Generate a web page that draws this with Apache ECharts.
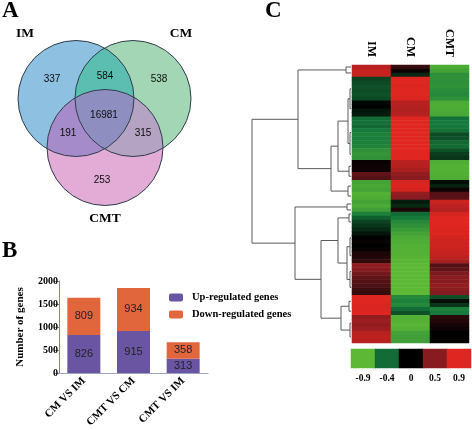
<!DOCTYPE html>
<html><head><meta charset="utf-8">
<style>html,body{margin:0;padding:0;background:#fff}#c{width:472px;height:430px}</style>
<script src="https://cdn.jsdelivr.net/npm/echarts@6/dist/echarts.min.js"></script>
</head><body><div id="c"></div>
<script>
// --- Panel A: Venn diagram
const vennSets = [
  {name:'IM',  cx:76,  cy:98.5,  r:58, labelX:25,  labelY:34},
  {name:'CM',  cx:133, cy:98.5,  r:58, labelX:181, labelY:34},
  {name:'CMT', cx:105, cy:147.5, r:58, labelX:105, labelY:219}
];
const vennCounts = [
  [337,52,79],[584,105,76],[538,159,79],[16981,104,115],[191,68,133],[315,143,133],[253,102,180]
];
// --- Panel B: stacked bars
const barCategories = ['CM VS IM','CMT VS CM','CMT VS IM'];
const upRegulated = [826,915,313];
const downRegulated = [809,934,358];
// --- Panel C: heatmap (one value per row, top to bottom)
const heatColumns = ['IM','CM','CMT'];
const heatIM = [.72,.78,.78,-.25,-.27,-.3,-.28,-.3,-.27,-.03,0,-.08,-.1,-.4,-.42,-.38,-.45,-.5,-.48,-.5,-.52,-.62,-.65,-.62,.03,.05,.05,.35,.3,-.75,-.78,-.75,-.85,-.82,-.75,-.8,-.72,-.5,-.35,-.25,-.2,-.15,-.08,0,.03,0,.03,.1,.12,.18,.55,.5,.42,.35,.3,.28,.22,.2,.9,.9,.88,.88,.9,.55,.6,.55,.6,.72,.75,.72];
const heatCM = [.2,.05,-.15,.9,.9,.88,.9,.9,.88,.72,.7,.68,.72,.9,.9,.9,.9,.9,.9,.9,.9,.9,.9,.9,.72,.7,.65,.55,.5,.85,.88,.85,.55,.5,-.1,-.15,.1,-.4,-.45,-.55,-.62,-.68,-.75,-.8,-.82,-.85,-.85,-.85,-.87,-.88,-.9,-.9,-.9,-.9,-.9,-.9,-.9,-.9,-.55,-.5,-.55,-.4,-.3,-.85,-.85,-.88,-.85,-.75,-.72,-.72];
const heatCMT = [-.8,-.75,-.6,-.62,-.6,-.62,-.58,-.55,-.6,-.8,-.82,-.8,-.78,-.42,-.45,-.44,-.42,-.28,-.3,-.38,-.4,-.3,-.22,-.2,-.82,-.85,-.85,-.84,-.82,-.05,-.12,.05,.3,.32,.8,.75,.7,.85,.9,.9,.9,.88,.88,.85,.82,.82,.8,.78,.75,.65,.3,.35,.45,.5,.5,.55,.52,.48,-.3,-.05,-.2,-.5,-.45,.15,.12,.08,.05,0,0,.02];
// Dendrogram: [merge distance, left, right]; a leaf is [firstRow, lastRow]
const dendrogram = [99,
  [53,
    [5,[0,0],[1,2]],
    [20,
      [13,
        [3,[1,[3,8],[9,12]],[1,[13,20],[21,23]]],
        [2,[24,26],[27,28]]],
      [3,[29,31],[32,33]]]],
  [56,
    [4,[34,35],[36,36]],
    [30,
      [13,
        [2,[37,37],[38,40]],
        [4,[1,[41,45],[46,49]],[1,[50,53],[54,57]]]],
      [10,
        [2,[58,60],[61,62]],
        [1,[63,66],[67,69]]]]]];
const colorTicks = ['-0.9','-0.4','0','0.5','0.9'];
const colorValues = [-0.9,-0.4,0,0.5,0.9];

const SERIF = '"Liberation Serif","Times New Roman",serif';
const SANS = '"Liberation Sans",Arial,sans-serif';
const txt = (weight,size,family,color)=>({fontWeight:weight,fontSize:size,fontFamily:family,color:color});
const rowCount = heatIM.length;

const heatData = [];
[heatIM,heatCM,heatCMT].forEach((col,c)=>col.forEach((v,r)=>heatData.push([c,r,v])));

const dendroSegs = [];
function walk(n){
  if (n.length===2){ return {d:0,y:(n[0]+n[1]+1)/2}; }
  const a=walk(n[1]), b=walk(n[2]), d=n[0];
  dendroSegs.push([d,a.y,d,b.y],[d,a.y,a.d,a.y],[d,b.y,b.d,b.y]);
  return {d:d,y:(a.y+b.y)/2};
}
const rootNode = walk(dendrogram);

function circ(set,api){
  const p=api.coord([set.cx,set.cy]);
  return {cx:p[0],cy:p[1],r:api.size([set.r,0])[0]};
}
function vennRender(params,api){
  const [A,B,C]=vennSets.map(s=>circ(s,api));
  const fill=(s,col,clip)=>{const e={type:'circle',shape:s,style:{fill:col}}; if(clip)e.clipPath={type:'circle',shape:clip}; return e;};
  const outline=s=>({type:'circle',shape:s,style:{fill:'none',stroke:'#2f3d4c',lineWidth:1}});
  return {type:'group',children:[
    fill(A,'#8ec0e2'),fill(B,'#a3d6b5'),fill(C,'#e2acd6'),
    fill(A,'#5cbeb0',B),fill(A,'#a68bcb',C),fill(B,'#b4a3c2',C),
    {type:'group',clipPath:{type:'circle',shape:A},children:[fill(B,'#8e8fc0',C)]},
    outline(A),outline(B),outline(C)
  ]};
}

const option = {
  backgroundColor:'#fff',
  animation:false,
  graphic:[
    {type:'text',left:2,top:0,style:{text:'A',fontWeight:'bold',fontSize:23,fontFamily:SERIF,fill:'#000'}},
    {type:'text',left:2,top:240,style:{text:'B',fontWeight:'bold',fontSize:23,fontFamily:SERIF,fill:'#000'}},
    {type:'text',left:265,top:0,style:{text:'C',fontWeight:'bold',fontSize:23,fontFamily:SERIF,fill:'#000'}}
  ],
  grid:[
    {left:0,top:0,width:472,height:430},
    {left:59,top:281,width:149,height:100},
    {left:352,top:65,width:117,height:278},
    {left:251,top:65,width:100,height:278},
    {left:351,top:349,width:120,height:19}
  ],
  xAxis:[
    {gridIndex:0,type:'value',min:0,max:472,show:false},
    {gridIndex:1,type:'category',data:barCategories,
      axisLine:{lineStyle:{color:'#9aa3c4',width:1}},
      axisTick:{alignWithLabel:true,length:4,lineStyle:{color:'#8a93b4'}},
      axisLabel:Object.assign({rotate:45,interval:0,margin:6},txt('bold',11,SERIF,'#000'))},
    {gridIndex:2,type:'category',position:'top',data:heatColumns,
      axisLine:{show:false},axisTick:{show:false},
      axisLabel:Object.assign({rotate:90,margin:8,interval:0},txt('bold',12,SERIF,'#000'))},
    {gridIndex:3,type:'value',min:0,max:100,inverse:true,show:false},
    {gridIndex:4,type:'category',data:colorTicks,
      axisLine:{show:false},axisTick:{show:false},
      axisLabel:Object.assign({margin:6,interval:0},txt('bold',9.5,SERIF,'#000'))}
  ],
  yAxis:[
    {gridIndex:0,type:'value',min:0,max:430,inverse:true,show:false},
    {gridIndex:1,type:'value',min:0,max:2000,interval:500,
      name:'Number of genes',nameLocation:'middle',nameGap:33,
      nameTextStyle:txt('bold',11,SERIF,'#000'),
      splitLine:{show:false},
      axisLine:{show:true,lineStyle:{color:'#7f88a8',width:1}},
      axisTick:{show:true,length:5,lineStyle:{color:'#7f88a8'}},
      axisLabel:Object.assign({margin:1,formatter:v=>String(v)},txt('bold',10,SERIF,'#000'))},
    {gridIndex:2,type:'category',inverse:true,show:false,data:heatIM.map((_,i)=>i)},
    {gridIndex:3,type:'value',min:0,max:rowCount,inverse:true,show:false},
    {gridIndex:4,type:'category',show:false,data:['scale']}
  ],
  visualMap:{show:false,type:'continuous',min:-0.9,max:0.9,dimension:2,seriesIndex:[4,6],
    inRange:{color:['#5cb835','#157a3c','#000000','#7c1a20','#df2620']}},
  legend:{
    data:['Up-regulated genes','Down-regulated genes'],
    orient:'vertical',left:169,top:292,padding:0,itemWidth:14,itemHeight:8,itemGap:6,
    itemStyle:{borderWidth:0},
    textStyle:Object.assign({padding:[0,0,0,4]},txt('bold',10.5,SERIF,'#000'))
  },
  series:[
    {type:'custom',xAxisIndex:0,yAxisIndex:0,clip:false,silent:true,data:[[0,0]],renderItem:vennRender,z:1},
    {type:'scatter',xAxisIndex:0,yAxisIndex:0,symbolSize:0,silent:true,z:3,itemStyle:{opacity:1},
      data:vennCounts.map(c=>({value:[c[1],c[2]],name:String(c[0])})),
      label:Object.assign({show:true,position:'inside',formatter:'{b}'},txt('normal',10,SANS,'#0c0c0c'))},
    {type:'scatter',xAxisIndex:0,yAxisIndex:0,symbolSize:0,silent:true,z:3,itemStyle:{opacity:1},
      data:vennSets.map(s=>({value:[s.labelX,s.labelY],name:s.name})),
      label:Object.assign({show:true,position:'inside',formatter:'{b}'},txt('bold',13.5,SERIF,'#000'))},
    {type:'custom',xAxisIndex:3,yAxisIndex:3,clip:false,silent:true,data:dendroSegs,z:2,
      encode:{x:[0,2],y:[1,3]},
      renderItem(params,api){
        const p=api.coord([api.value(0),api.value(1)]), q=api.coord([api.value(2),api.value(3)]);
        return {type:'line',shape:{x1:p[0],y1:p[1],x2:q[0],y2:q[1]},style:{stroke:'#5a5a5a',lineWidth:1}};
      }},
    {type:'heatmap',xAxisIndex:2,yAxisIndex:2,data:heatData,silent:true,z:3,
      itemStyle:{borderWidth:0},emphasis:{disabled:true}},
    {type:'bar',name:'Up-regulated genes',xAxisIndex:1,yAxisIndex:1,stack:'g',barWidth:33,data:upRegulated,
      itemStyle:{color:'#6a55a2'},
      label:Object.assign({show:true,position:'inside'},txt('normal',11,SANS,'#222228'))},
    {type:'heatmap',xAxisIndex:4,yAxisIndex:4,silent:true,z:3,
      data:colorValues.map((v,i)=>[i,0,v]),itemStyle:{borderWidth:0},emphasis:{disabled:true}},
    {type:'bar',name:'Down-regulated genes',xAxisIndex:1,yAxisIndex:1,stack:'g',barWidth:33,data:downRegulated,
      itemStyle:{color:'#e2663c'},
      label:Object.assign({show:true,position:'inside'},txt('normal',11,SANS,'#222228'))}
  ]
};
const chart=echarts.init(document.getElementById('c'),null,{renderer:'canvas'});
chart.setOption(option);
</script></body></html>
